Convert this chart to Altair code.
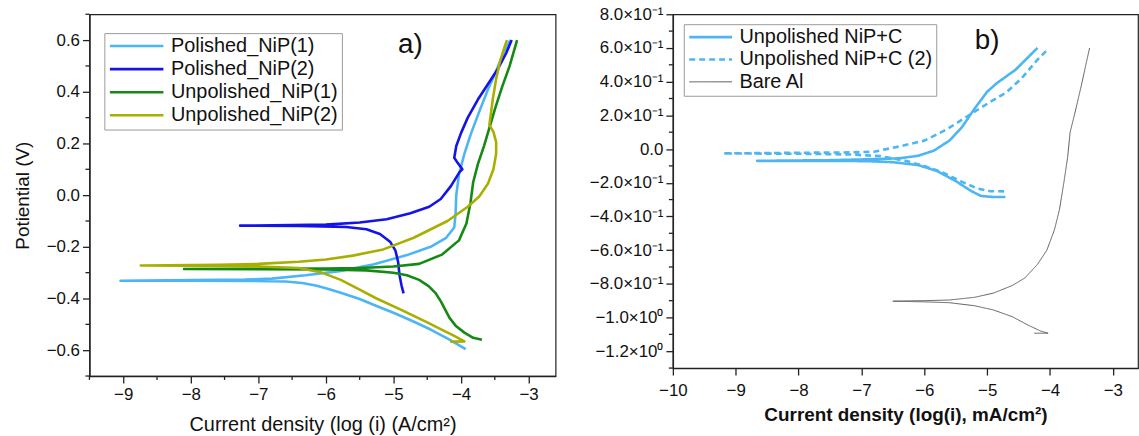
import altair as alt
import pandas as pd

FONT = "Liberation Sans"

# ---------------- panel a) ----------------
A_SERIES = ["Polished_NiP(1)", "Polished_NiP(2)", "Unpolished_NiP(1)", "Unpolished_NiP(2)"]
A_COLORS = ["#4CB5F5", "#1414E6", "#148A14", "#A9AF00"]

P1_X = [-3.93, -4.0, -4.19, -4.45, -4.72, -5.0, -5.25, -5.5, -5.78, -6.0, -6.15, -6.35, -6.6, -7.1, -8.0, -9.04,
        -8.0, -7.2, -6.8, -6.3, -5.8, -5.3, -4.8, -4.45, -4.22, -4.1, -4.08, -4.07, -4.03, -3.95, -3.85, -3.72,
        -3.6, -3.48, -3.37, -3.27]
P1_Y = [-0.596, -0.585, -0.556, -0.52, -0.487, -0.455, -0.429, -0.402, -0.378, -0.36, -0.35, -0.34, -0.334, -0.332,
        -0.331, -0.331, -0.329, -0.327, -0.323, -0.31, -0.294, -0.268, -0.232, -0.2, -0.165, -0.125, -0.07, 0.0,
        0.08, 0.16, 0.24, 0.33, 0.41, 0.48, 0.55, 0.6]

P2_X = [-4.85, -4.88, -4.91, -4.93, -4.97, -5.05, -5.2, -5.4, -5.7, -6.4, -7.27,
        -6.5, -6.0, -5.5, -5.1, -4.75, -4.47, -4.3, -4.15, -4.02, -3.98, -4.05, -4.1, -4.07, -4.0, -3.9, -3.75,
        -3.6, -3.45, -3.33, -3.25]
P2_Y = [-0.38, -0.35, -0.31, -0.26, -0.215, -0.18, -0.15, -0.132, -0.123, -0.119, -0.118,
        -0.116, -0.114, -0.106, -0.093, -0.07, -0.045, -0.015, 0.035, 0.09, 0.1, 0.125, 0.145, 0.19, 0.24, 0.3,
        0.37, 0.43, 0.49, 0.55, 0.6]

U1_X = [-3.69, -3.82, -3.95, -4.08, -4.17, -4.24, -4.3, -4.38, -4.48, -4.62, -4.8, -5.0, -5.4, -6.0, -7.0, -8.1,
        -7.0, -6.0, -5.5, -5.0, -4.62, -4.28, -4.03, -3.92, -3.86, -3.82, -3.75, -3.66, -3.58, -3.49, -3.39,
        -3.28, -3.17]
U1_Y = [-0.56, -0.552, -0.532, -0.505, -0.475, -0.44, -0.41, -0.378, -0.352, -0.328, -0.31, -0.3, -0.291, -0.288,
        -0.287, -0.286, -0.285, -0.284, -0.282, -0.276, -0.266, -0.23, -0.175, -0.11, -0.03, 0.05, 0.12, 0.19,
        0.26, 0.34, 0.42, 0.5, 0.6]

U2_X = [-4.16, -3.95, -4.1, -4.25, -4.5, -4.9, -5.25, -5.5, -5.78, -6.08, -6.4, -7.0, -7.6, -8.74,
        -7.6, -7.0, -6.4, -6.0, -5.6, -5.15, -4.7, -4.2, -3.9, -3.73, -3.6, -3.52, -3.48, -3.48, -3.52, -3.58,
        -3.56, -3.53, -3.48, -3.42, -3.36, -3.32]
U2_Y = [-0.567, -0.566, -0.545, -0.525, -0.492, -0.442, -0.4, -0.366, -0.328, -0.298, -0.282, -0.276, -0.274, -0.272,
        -0.27, -0.266, -0.258, -0.249, -0.234, -0.21, -0.165, -0.1, -0.045, -0.005, 0.045, 0.1, 0.16, 0.205, 0.245,
        0.272, 0.31, 0.37, 0.45, 0.52, 0.57, 0.6]

A_X_MAJOR = [-9, -8, -7, -6, -5, -4, -3]
A_X_MINOR = [-9.5, -8.5, -7.5, -6.5, -5.5, -4.5, -3.5]
A_Y_MAJOR = [-0.6, -0.4, -0.2, 0.0, 0.2, 0.4, 0.6]
A_Y_MINOR = [-0.7, -0.5, -0.3, -0.1, 0.1, 0.3, 0.5, 0.7]

# ---------------- panel b) ----------------
B_SERIES = ["Unpolished NiP+C", "Unpolished NiP+C (2)", "Bare Al"]
B_COLORS = ["#4DB6F2", "#4DB6F2", "#5e5e5e"]
B_DASHES = [[1, 0], [6, 4], [1, 0]]
B_WIDTHS = [2.6, 2.6, 1.0]

C1_X = [-4.71, -4.9, -5.1, -5.25, -5.5, -5.8, -6.1, -6.5, -6.9, -7.5, -8.66,
        -7.5, -6.8, -6.4, -6.1, -5.85, -5.6, -5.4, -5.2, -5.0, -4.85, -4.55, -4.2]
C1_Y = [-0.285, -0.285, -0.278, -0.25, -0.19, -0.13, -0.095, -0.078, -0.072, -0.07, -0.07,
        -0.066, -0.06, -0.055, -0.04, -0.01, 0.05, 0.13, 0.24, 0.34, 0.39, 0.47, 0.6]

C2_X = [-4.73, -4.95, -5.15, -5.4, -5.7, -6.0, -6.3, -6.7, -7.2, -8.0, -9.2,
        -8.0, -7.2, -6.8, -6.4, -6.0, -5.65, -5.25, -4.95, -4.7, -4.45, -4.2, -4.04]
C2_Y = [-0.251, -0.25, -0.235, -0.195, -0.14, -0.1, -0.07, -0.042, -0.032, -0.028, -0.026,
        -0.022, -0.02, -0.016, 0.015, 0.05, 0.115, 0.21, 0.28, 0.335, 0.42, 0.53, 0.59]

AL_X = [-4.25, -4.03, -4.15, -4.35, -4.6, -4.9, -5.2, -5.6, -6.0, -6.5,
        -6.0, -5.6, -5.2, -4.9, -4.6, -4.4, -4.2, -4.05, -3.93, -3.85, -3.78, -3.72, -3.68, -3.6, -3.5, -3.43, -3.37]
AL_Y = [-1.093, -1.093, -1.08, -1.045, -0.995, -0.955, -0.93, -0.912, -0.907, -0.903,
        -0.9, -0.896, -0.88, -0.855, -0.81, -0.765, -0.685, -0.6, -0.48, -0.36, -0.2, -0.05, 0.1, 0.22, 0.38, 0.5, 0.6]

B_X_MAJOR = [-10, -9, -8, -7, -6, -5, -4, -3]
B_Y_MAJOR = [-1.2, -1.0, -0.8, -0.6, -0.4, -0.2, 0.0, 0.2, 0.4, 0.6, 0.8]
B_Y_MINOR = [-1.3, -1.1, -0.9, -0.7, -0.5, -0.3, -0.1, 0.1, 0.3, 0.5, 0.7]

PANEL_LABELS_A = {"text": ["a)"], "x": [-4.75], "y": [0.58]}
PANEL_LABELS_B = {"text": ["b)"], "x": [-5.0], "y": [0.64]}

A_W, A_H = 469, 364
B_W, B_H = 468, 356


def frame(name, xs, ys):
    return pd.DataFrame({"series": name, "x": xs, "y": ys, "i": list(range(len(xs)))})


df_a = pd.concat([frame(A_SERIES[0], P1_X, P1_Y), frame(A_SERIES[1], P2_X, P2_Y),
                  frame(A_SERIES[2], U1_X, U1_Y), frame(A_SERIES[3], U2_X, U2_Y)], ignore_index=True)
df_b = pd.concat([frame(B_SERIES[0], C1_X, C1_Y), frame(B_SERIES[1], C2_X, C2_Y),
                  frame(B_SERIES[2], AL_X, AL_Y)], ignore_index=True)

axis_common = dict(grid=False, domainColor="#222", domainWidth=1.4, tickColor="#222", tickWidth=1.3,
                   tickSize=7, labelColor="#111", titleColor="#111", labelFont=FONT, titleFont=FONT,
                   labelFlush=False)
TICK = dict(color="#222", strokeWidth=1.3)


def minor_y(values, yenc):
    return alt.Chart(pd.DataFrame({"y": values})).mark_rule(**TICK).encode(
        y=yenc, x=alt.value(-4), x2=alt.value(0))


def minor_x(values, xenc, h):
    return alt.Chart(pd.DataFrame({"x": values})).mark_rule(**TICK).encode(
        x=xenc, y=alt.value(h), y2=alt.value(h + 4))


# ----- panel a chart -----
xa = alt.X("x:Q", scale=alt.Scale(domain=[-9.5, -2.6], nice=False, zero=False),
           axis=alt.Axis(values=A_X_MAJOR, title="Current density (log (i) (A/cm²)", format="d",
                         labelFontSize=17, titleFontSize=20, titleFontWeight="normal",
                         labelPadding=4, titlePadding=12, **axis_common))
ya = alt.Y("y:Q", scale=alt.Scale(domain=[-0.7, 0.7], nice=False, zero=False),
           axis=alt.Axis(values=A_Y_MAJOR, title="Potiential (V)", format=".1f",
                         labelFontSize=17, titleFontSize=19, titleFontWeight="normal",
                         labelPadding=3, titlePadding=14, **axis_common))

lines_a = alt.Chart(df_a).mark_line(strokeWidth=2.6, strokeJoin="round").encode(
    x=xa, y=ya,
    color=alt.Color("series:N", scale=alt.Scale(domain=A_SERIES, range=A_COLORS),
                    legend=alt.Legend(title=None, orient="none", legendX=15, legendY=19,
                                      symbolType="stroke", symbolSize=2900, symbolStrokeWidth=2.6,
                                      clipHeight=18, rowPadding=3.2, padding=4, labelOffset=6,
                                      labelFontSize=20, labelFont=FONT, labelColor="#111", labelLimit=400,
                                      strokeColor="#9a9a9a", fillColor="white")),
    order="i:Q",
)
text_a = alt.Chart(pd.DataFrame(PANEL_LABELS_A)).mark_text(fontSize=28, font=FONT, color="#111").encode(
    x=xa, y=ya, text="text:N")

panel_a = alt.layer(lines_a, text_a, minor_y(A_Y_MINOR, ya), minor_x(A_X_MINOR, xa, A_H)).properties(
    width=A_W, height=A_H)

# ----- panel b chart -----
B_LABEL = ("datum.value == 0 ? '0.0' : (abs(datum.value) >= 1 ? format(datum.value, '.1f') + '×10⁰' : "
           "format(datum.value*10, '.1f') + '×10⁻¹')")
xb = alt.X("x:Q", scale=alt.Scale(domain=[-10, -2.6], nice=False, zero=False),
           axis=alt.Axis(values=B_X_MAJOR, title="Current density (log(i), mA/cm²)", format="d",
                         labelFontSize=17, titleFontSize=19, titleFontWeight="bold",
                         labelPadding=8, titlePadding=7, **axis_common))
yb = alt.Y("y:Q", scale=alt.Scale(domain=[-1.3, 0.8], nice=False, zero=False),
           axis=alt.Axis(values=B_Y_MAJOR, title=None, labelExpr=B_LABEL,
                         labelFontSize=17, labelPadding=3, **axis_common))

leg_b = alt.Legend(title=None, orient="none", legendX=11, legendY=10,
                   symbolType="stroke", symbolSize=1850,
                   clipHeight=18, rowPadding=2.5, padding=4, labelOffset=6,
                   labelFontSize=20, labelFont=FONT, labelColor="#111", labelLimit=400,
                   strokeColor="#9a9a9a", fillColor="white")
lines_b = alt.Chart(df_b).mark_line(strokeJoin="round").encode(
    x=xb, y=yb,
    color=alt.Color("series:N", scale=alt.Scale(domain=B_SERIES, range=B_COLORS), legend=leg_b),
    strokeDash=alt.StrokeDash("series:N", scale=alt.Scale(type="ordinal", domain=B_SERIES, range=B_DASHES),
                              legend=leg_b),
    strokeWidth=alt.StrokeWidth("series:N", scale=alt.Scale(type="ordinal", domain=B_SERIES, range=B_WIDTHS),
                                legend=leg_b),
    order="i:Q",
)
text_b = alt.Chart(pd.DataFrame(PANEL_LABELS_B)).mark_text(fontSize=28, font=FONT, color="#111").encode(
    x=xb, y=yb, text="text:N")

panel_b = alt.layer(lines_b, text_b, minor_y(B_Y_MINOR, yb)).properties(width=B_W, height=B_H)

chart = alt.hconcat(panel_a, panel_b, spacing=32).resolve_scale(
    color="independent", strokeDash="independent", strokeWidth="independent"
).properties(
    padding={"left": 12, "top": 3, "right": 0, "bottom": 0},
    background="white",
).configure(font=FONT).configure_view(stroke="#222", strokeWidth=1.2)

chart.save("out.html", embed_options={"renderer": "svg", "actions": False})
